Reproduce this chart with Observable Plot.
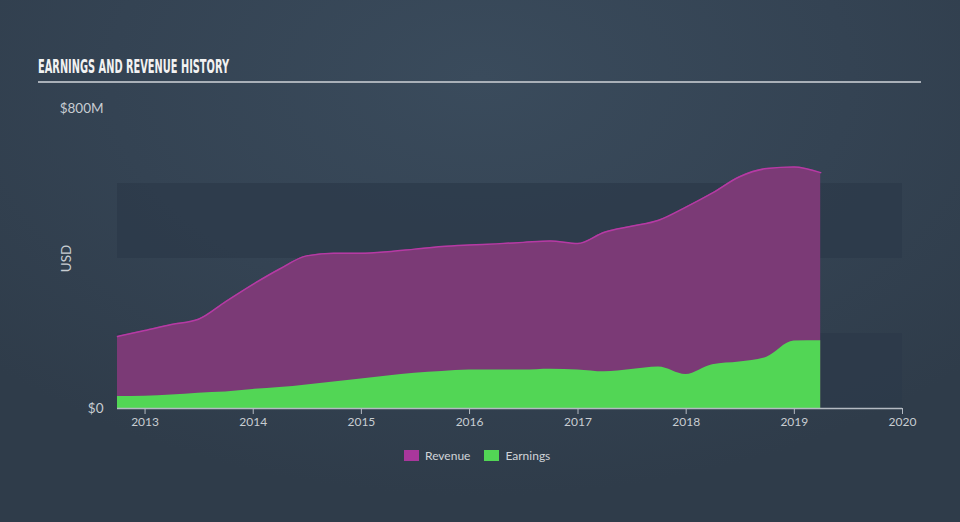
<!DOCTYPE html>
<html>
<head>
<meta charset="utf-8">
<script src="https://cdn.jsdelivr.net/npm/d3@7"></script>
<script src="https://cdn.jsdelivr.net/npm/@observablehq/plot@0.6"></script>
<style>
  html, body { margin: 0; padding: 0; }
  body { width: 960px; height: 522px; overflow: hidden;
    background: radial-gradient(ellipse 70% 80% at 50% 15%, #3a4b5c 0%, #344353 55%, #2f3c4a 100%);
    font-family: Lato, "Open Sans", sans-serif; }
  #wrap { position: relative; width: 960px; height: 522px; }
  #title { position: absolute; left: 38px; top: 56px; margin: 0; color: #f2f2f2;
    font-family: "Liberation Sans Narrow", "DejaVu Sans Condensed", sans-serif; font-weight: bold;
    font-size: 20px; line-height: 20px; transform-origin: left top; white-space: nowrap; }
  #rule { position: absolute; left: 38px; top: 81px; width: 883px; height: 2px; background: #a9b0b8; }
  #chart { position: absolute; left: 0; top: 0; }
  #legend { position: absolute; top: 448px; left: 404px; display: flex; align-items: center;
    font-size: 12px; color: #d0d4d8; }
  .sw { width: 15px; height: 11px; display: inline-block; margin-right: 6px; }
  .item { display: flex; align-items: center; margin-right: 14px; }
</style>
</head>
<body>
<div id="wrap">
  <div id="title">EARNINGS AND REVENUE HISTORY</div>
  <div id="rule"></div>
  <div id="chart"></div>
  <div id="legend">
    <span class="item"><span class="sw" style="background:#a9379c"></span>Revenue</span>
    <span class="item"><span class="sw" style="background:#52d655"></span>Earnings</span>
  </div>
</div>
<script>
const dates = [
  "2012-09-30","2012-12-31","2013-03-31","2013-06-30","2013-09-30","2013-12-31",
  "2014-03-31","2014-06-30","2014-09-30","2014-12-31","2015-03-31","2015-06-30",
  "2015-09-30","2015-12-31","2016-03-31","2016-06-30","2016-09-30","2016-12-31",
  "2017-03-31","2017-06-30","2017-09-30","2017-12-31","2018-03-31","2018-06-30",
  "2018-09-30","2018-12-31","2019-03-31"
];
const revenue = [192,208,224,238,285,331,372,407,414,414,418,425,432,436,439,443,447,440,470,486,502,537,575,618,640,644,629];
const earnings = [32,33,36,41,44,51,56,63,71,79,87,94,99,103,103,103,105,103,98,104,111,91,117,124,137,180,181];
const yTicks = [0, 800];
const yTickLabels = ["$0", "$800M"];
const bands = [{lo: 0, hi: 200}, {lo: 400, hi: 600}];
const xDomain = ["2012-09-30", "2020-01-01"];
const yearTicks = ["2013","2014","2015","2016","2017","2018","2019","2020"];

// fit the condensed title to its width in the reference
const t = document.getElementById("title");
const w = t.getBoundingClientRect().width;
t.style.transform = `scaleX(${191 / w})`;

const parse = d3.utcParse("%Y-%m-%d");
const data = dates.map((d, i) => ({date: parse(d), revenue: revenue[i], earnings: earnings[i]}));
const x0 = parse(xDomain[0]), x1 = parse(xDomain[1]);
const bandData = bands.map(b => ({...b, x1: x0, x2: x1}));

const chart = Plot.plot({
  width: 960,
  height: 440,
  marginLeft: 117,
  marginRight: 58,
  marginTop: 108,
  marginBottom: 32,
  style: {background: "transparent", color: "#c8cdd2", fontSize: "12px", fontFamily: "Lato, 'Open Sans', sans-serif"},
  x: {type: "utc", domain: [x0, x1]},
  y: {domain: [0, 800]},
  marks: [
    Plot.rect(bandData, {x1: "x1", x2: "x2", y1: "lo", y2: "hi", fill: "#2c3a49", fillOpacity: 0.75}),
    Plot.areaY(data, {x: "date", y: "revenue", fill: "#7b3a76", curve: "monotone-x"}),
    Plot.lineY(data, {x: "date", y: "revenue", stroke: "#b63aa4", strokeWidth: 1.5, curve: "monotone-x"}),
    Plot.areaY(data, {x: "date", y: "earnings", fill: "#52d655", curve: "monotone-x"}),
    Plot.ruleY([0], {stroke: "#b4bac2", strokeWidth: 1.5}),
    Plot.axisX({ticks: yearTicks.map(y => d3.utcParse("%Y")(y)), tickFormat: d3.utcFormat("%Y"),
      tickSize: 6, tickPadding: 3, stroke: "#b4bac2", fill: "#c8cdd2", label: null, fontSize: 12}),
    Plot.axisY({ticks: yTicks, tickFormat: (d) => yTickLabels[yTicks.indexOf(d)], tickSize: 0, tickPadding: 14,
      fill: "#c8cdd2", label: "USD", labelArrow: "none", labelAnchor: "center", labelOffset: 56, fontSize: 13.5})
  ]
});
document.getElementById("chart").appendChild(chart);
</script>
</body>
</html>
